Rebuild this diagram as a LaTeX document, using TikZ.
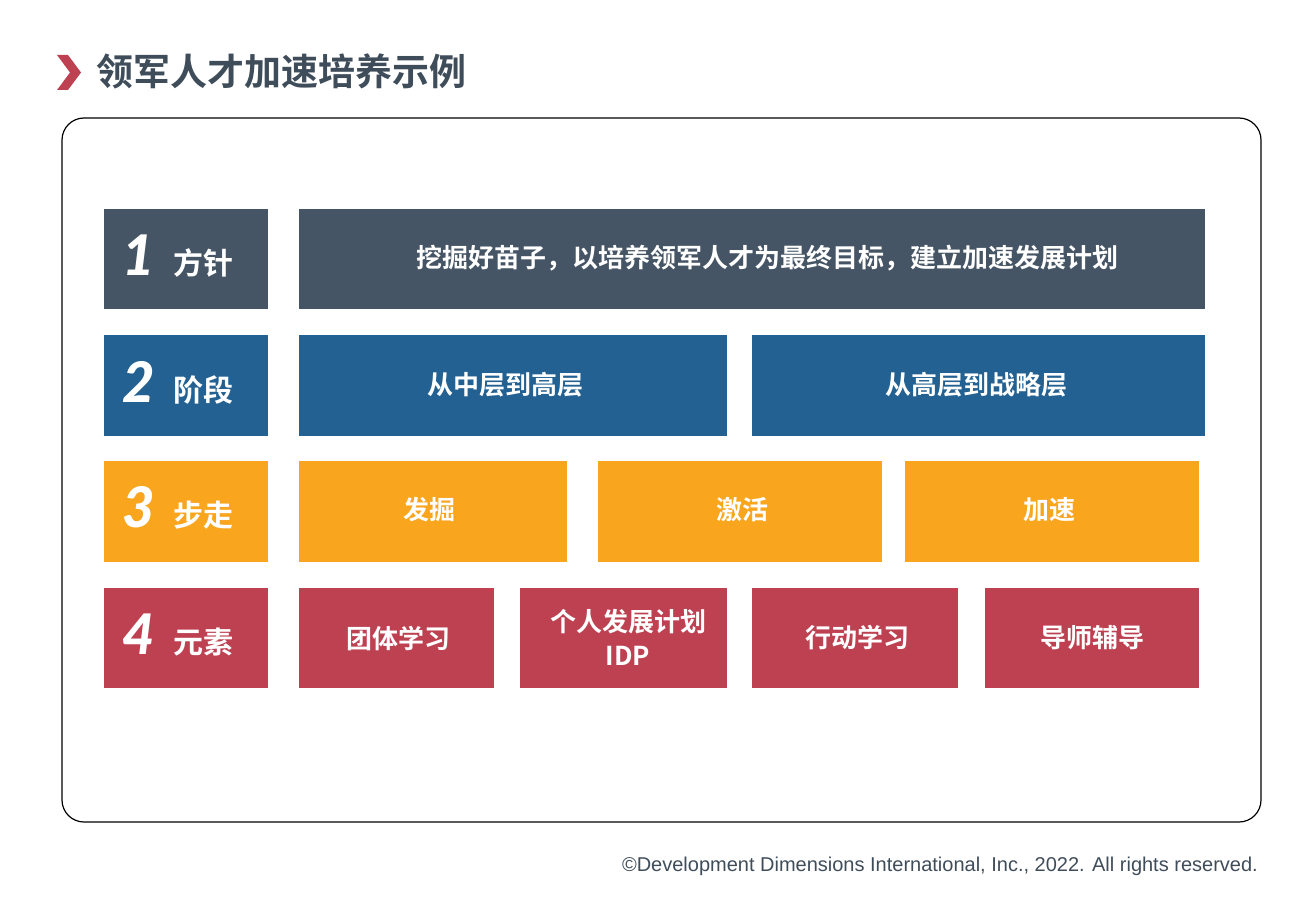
\documentclass[tikz,border=0pt]{standalone}
\usepackage{fontspec}
\setmainfont{Liberation Sans}
\newfontfamily\cjk{Noto Sans CJK SC}[BoldFont=* Bold]
\newfontfamily\numf{Lato}[BoldItalicFont=* Black Italic]
\definecolor{slate}{HTML}{455565}
\definecolor{blu}{HTML}{236192}
\definecolor{org}{HTML}{F9A51E}
\definecolor{rd}{HTML}{BE4152}
\definecolor{ttl}{HTML}{3F4D5A}
\tikzset{
 cell/.style={fill=#1,draw=none,text=white,font=\cjk\bfseries\fontsize{26}{34}\selectfont,align=center,inner sep=0},
}
\newcommand{\boxat}[6]{\path[fill=#5] (#1,#2) rectangle (#3,#4); \node[cell=#5] (#6) at ({(#1+#3)/2},{(#2+#4)/2}) {};}
\begin{document}
\begin{tikzpicture}[x=1pt,y=-1pt]
\useasboundingbox (0,0) rectangle (1308,904);
\fill[rd] (57,55) -- (68,55) -- (81,72.5) -- (68,90) -- (57,90) -- (70,72.5) -- cycle;
\node[anchor=west,text=ttl,font=\cjk\bfseries\fontsize{37}{44}\selectfont,inner sep=0] (title) at (96,71) {领军人才加速培养示例};
\draw[line width=1.2pt,rounded corners=22pt] (62,118) rectangle (1261,822);
% row labels
\foreach \c/\ya/\yb/\n/\t/\nm in {slate/209/309/1/方针/l1, blu/335/436/2/阶段/l2, org/461/562/3/步走/l3, rd/588/688/4/元素/l4}{
 \fill[\c] (104,\ya) rectangle (268,\yb);
 \node[text=white,font=\numf\bfseries\itshape\fontsize{56}{60}\selectfont,inner sep=0] (\nm n) at (139,{(\ya+\yb)/2-4}) {\n};
 \node[text=white,font=\cjk\bfseries\fontsize{30}{36}\selectfont,inner sep=0,anchor=west] (\nm t) at (173,{(\ya+\yb)/2+4}) {\t};
}
% row1
\fill[slate] (299,209) rectangle (1205,309);
\node[cell=slate] (r1) at (767,258) {挖掘好苗子，以培养领军人才为最终目标，建立加速发展计划};
% row2
\fill[blu] (299,335) rectangle (727,436); \node[cell=blu] (r2a) at (505,385) {从中层到高层};
\fill[blu] (752,335) rectangle (1205,436); \node[cell=blu] (r2b) at (976,385) {从高层到战略层};
% row3
\fill[org] (299,461) rectangle (567,562); \node[cell=org] (r3a) at (429,510) {发掘};
\fill[org] (598,461) rectangle (882,562); \node[cell=org] (r3b) at (742,510) {激活};
\fill[org] (905,461) rectangle (1199,562); \node[cell=org] (r3c) at (1049,510) {加速};
% row4
\fill[rd] (299,588) rectangle (494,688); \node[cell=rd] (r4a) at (398,638) {团体学习};
\fill[rd] (520,588) rectangle (727,688); \node[cell=rd] (r4b) at (628,637) {个人发展计划\\IDP};
\fill[rd] (752,588) rectangle (958,688); \node[cell=rd] (r4c) at (857,638) {行动学习};
\fill[rd] (985,588) rectangle (1199,688); \node[cell=rd] (r4d) at (1092,638) {导师辅导};
\node[anchor=east,text=ttl,font=\fontsize{20}{24}\selectfont,inner sep=0] (foot) at (1258,866) {©Development Dimensions International, Inc., 2022. All rights reserved.};
\end{tikzpicture}
\end{document}
